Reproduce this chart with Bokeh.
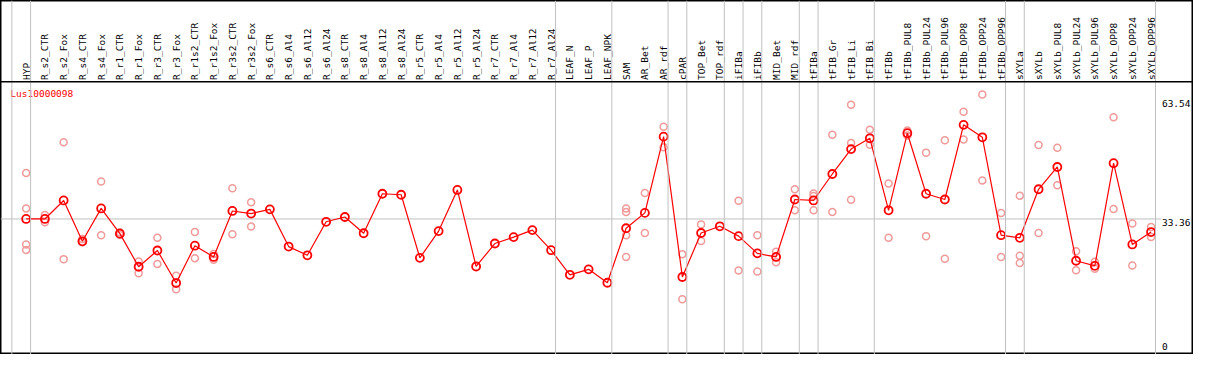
import math
from bokeh.plotting import figure
from bokeh.models import Range1d, Span, ColumnDataSource
from bokeh.embed import file_html
from bokeh.resources import INLINE
from bokeh.core.properties import value

# ---------------- data ----------------
gene_name = "Lus10000098"

categories = [
    "HYP", "R_s2_CTR", "R_s2_Fox", "R_s4_CTR", "R_s4_Fox", "R_r1_CTR", "R_r1_Fox",
    "R_r3_CTR", "R_r3_Fox", "R_r1s2_CTR", "R_r1s2_Fox", "R_r3s2_CTR", "R_r3s2_Fox",
    "R_s6_CTR", "R_s6_Al4", "R_s6_Al12", "R_s6_Al24", "R_s8_CTR", "R_s8_Al4",
    "R_s8_Al12", "R_s8_Al24", "R_r5_CTR", "R_r5_Al4", "R_r5_Al12", "R_r5_Al24",
    "R_r7_CTR", "R_r7_Al4", "R_r7_Al12", "R_r7_Al24", "LEAF_N", "LEAF_P", "LEAF_NPK",
    "SAM", "AR_Bet", "AR_rdf", "cPAR", "TOP_Bet", "TOP_rdf", "iFIBa", "iFIBb",
    "MID_Bet", "MID_rdf", "tFIBa", "tFIB_Gr", "tFIB_Li", "tFIB_Bi", "tFIBb",
    "tFIBb_PUL8", "tFIBb_PUL24", "tFIBb_PUL96", "tFIBb_OPP8", "tFIBb_OPP24",
    "tFIBb_OPP96", "sXYLa", "sXYLb", "sXYLb_PUL8", "sXYLb_PUL24", "sXYLb_PUL96",
    "sXYLb_OPP8", "sXYLb_OPP24", "sXYLb_OPP96",
]

# number of categories in each separated group (left to right)
group_sizes = [1, 28, 3, 3, 1, 2, 1, 1, 2, 1, 3, 7, 1, 7]

mean_values = [
    33.36, 33.36, 38.06, 27.67, 36.04, 29.62, 21.20, 25.33, 17.06, 26.55, 23.70,
    35.39, 34.73, 35.80, 26.33, 24.12, 32.64, 33.85, 29.72, 39.77, 39.52, 23.46,
    30.27, 40.74, 21.27, 27.11, 28.74, 30.52, 25.41, 19.15, 20.54, 17.13, 31.00,
    34.90, 54.30, 18.59, 29.79, 31.49, 28.99, 24.60, 23.70, 38.31, 38.06, 44.80,
    51.13, 53.88, 35.56, 55.17, 39.77, 38.31, 57.29, 54.13, 29.23, 28.57, 40.91,
    46.58, 22.73, 21.44, 47.55, 26.87, 30.03,
]

replicate_values = [
    [45.05, 36.04, 26.87, 25.48],   # HYP
    [34.34, 32.54],                 # R_s2_CTR
    [52.84, 23.14],                 # R_s2_Fox
    [28.25, 27.43],                 # R_s4_CTR
    [42.86, 29.23],                 # R_s4_Fox
    [29.96, 29.30],                 # R_r1_CTR
    [22.56, 19.57],                 # R_r1_Fox
    [28.57, 21.93],                 # R_r3_CTR
    [18.91, 15.50],                 # R_r3_Fox
    [30.03, 23.39],                 # R_r1s2_CTR
    [24.43, 22.97],                 # R_r1s2_Fox
    [41.15, 29.47],                 # R_r3s2_CTR
    [37.58, 31.42],                 # R_r3s2_Fox
    [], [], [], [], [], [], [], [], [], [], [], [], [], [], [], [],  # R_s6_CTR .. R_r7_Al24
    [], [], [],                     # LEAF_N, LEAF_P, LEAF_NPK
    [36.04, 35.14, 29.23, 23.70],   # SAM
    [39.94, 29.79],                 # AR_Bet
    [56.80, 51.62],                 # AR_rdf
    [24.36, 12.92],                 # cPAR
    [31.98, 27.77],                 # TOP_Bet
    [],                             # TOP_rdf
    [37.99, 20.22],                 # iFIBa
    [29.23, 19.98],                 # iFIBb
    [24.99, 22.32],                 # MID_Bet
    [40.91, 35.56],                 # MID_rdf
    [39.84, 39.21, 35.56],          # tFIBa
    [54.78, 35.14],                 # tFIB_Gr
    [62.40, 52.67, 38.23],          # tFIB_Li
    [56.07, 52.25],                 # tFIB_Bi
    [42.37, 28.57],                 # tFIBb
    [55.83, 54.61],                 # tFIBb_PUL8
    [50.23, 28.99],                 # tFIBb_PUL24
    [53.39, 23.22],                 # tFIBb_PUL96
    [60.62, 53.57],                 # tFIBb_OPP8
    [65.00, 43.17],                 # tFIBb_OPP24
    [34.90, 23.70],                 # tFIBb_OPP96
    [39.28, 24.02, 22.17],          # sXYLa
    [52.18, 29.79],                 # sXYLb
    [51.45, 41.96],                 # sXYLb_PUL8
    [25.16, 20.30],                 # sXYLb_PUL24
    [22.49, 20.71],                 # sXYLb_PUL96
    [59.24, 35.87],                 # sXYLb_OPP8
    [32.22, 21.51],                 # sXYLb_OPP24
    [31.32, 28.74],                 # sXYLb_OPP96
]

tick_values = [0, 33.36, 63.54]
tick_labels = ["0", "33.36", "63.54"]
grid_value = 33.36

# ---------------- layout / style ----------------
W, H = 1193, 354
PX = 19.0          # reference px per category
X0 = 26.0          # reference px of first category
YPU = 4.109        # reference px per value unit
Y0 = 365.4         # reference px of value 0
REF_W, REF_H = 1209, 370

def xr(px):
    return (px - X0) / PX

def yr(py):
    return (Y0 - py) / YPU

FONT = value("DejaVu Sans Mono")
FS = "9.5px"
GREY = "#c0c0c0"

p = figure(width=W, height=H, output_backend="svg", toolbar_location=None,
           x_range=Range1d(xr(0), xr(REF_W)), y_range=Range1d(yr(REF_H), yr(0)),
           x_axis_location=None, y_axis_location=None, min_border=0)
p.grid.visible = False
p.background_fill_color = "white"
p.border_fill_color = "white"
p.outline_line_color = "black"
p.outline_line_width = 2

xs = list(range(len(categories)))

# group separators
bounds = [-1]
acc = -1
for g in group_sizes:
    acc += g
    bounds.append(acc)
for b in bounds:
    p.add_layout(Span(location=b + 4.5 / PX, dimension="height",
                      line_color=GREY, line_width=1))

# header separator
p.add_layout(Span(location=yr(85), dimension="width", line_color="black", line_width=1.5))

# horizontal grid line at middle tick
p.segment(x0=[xr(0)], x1=[xr(1176)], y0=[grid_value], y1=[grid_value],
          line_color=GREY, line_width=1)

# category labels (vertical)
p.text(x=xs, y=[yr(83)] * len(xs), text=categories, angle=math.pi / 2,
       text_align="left", text_baseline="middle", text_font=FONT,
       text_font_size=FS, text_color="black")

# tick labels
top_ticks = [i for i, v in enumerate(tick_values) if v != 0]
p.text(x=[xr(1177)] * len(top_ticks), y=[tick_values[i] for i in top_ticks],
       text=[tick_labels[i] for i in top_ticks], text_align="left",
       text_baseline="top", text_font=FONT, text_font_size=FS, text_color="black")
zero_ticks = [i for i, v in enumerate(tick_values) if v == 0]
p.text(x=[xr(1177)] * len(zero_ticks), y=[tick_values[i] for i in zero_ticks],
       text=[tick_labels[i] for i in zero_ticks], text_align="left",
       text_baseline="bottom", text_font=FONT, text_font_size=FS, text_color="black")

# gene name
p.text(x=[xr(10)], y=[yr(97)], text=[gene_name], text_align="left",
       text_baseline="middle", text_font=FONT, text_font_size=FS, text_color="red")

# replicates
rx, ry = [], []
for i, vals in enumerate(replicate_values):
    for v in vals:
        rx.append(i)
        ry.append(v)
p.scatter(x=rx, y=ry, marker="circle", size=7, fill_color=None,
          line_color="#f09a9a", line_width=1.5)

# mean line
src = ColumnDataSource(dict(x=xs, y=mean_values))
p.line(x="x", y="y", source=src, line_color="red", line_width=1.2)
p.scatter(x="x", y="y", source=src, marker="circle", size=8, fill_color=None,
          line_color="red", line_width=1.8)

open("out.html", "w").write(file_html(p, INLINE))
